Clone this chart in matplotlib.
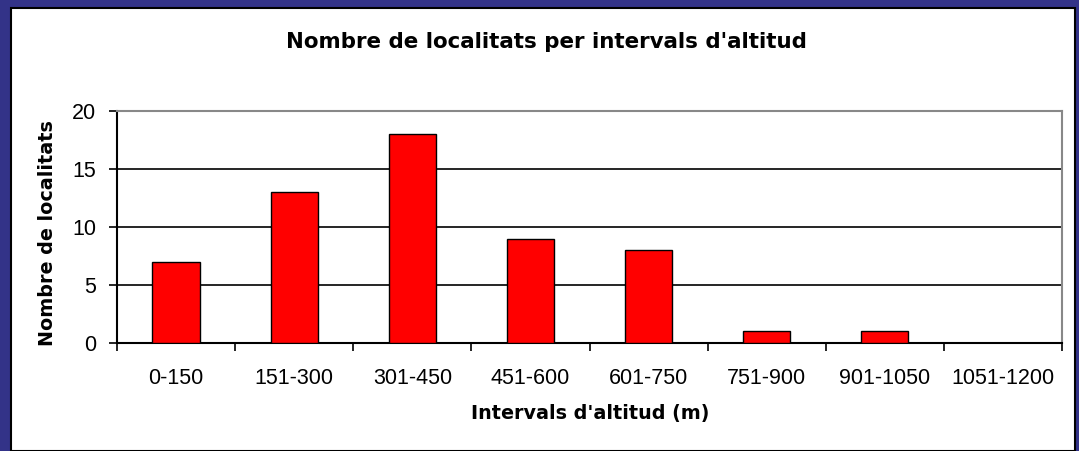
import numpy as np
import matplotlib.pyplot as plt
from matplotlib.patches import Rectangle

# data
intervals = ['0-150', '151-300', '301-450', '451-600', '601-750',
             '751-900', '901-1050', '1051-1200']
localitats = [7, 13, 18, 9, 8, 1, 1, 0]

W, H = 1079, 451
fig = plt.figure(figsize=(W / 100, H / 100), dpi=100, facecolor='#333388')
plt.rcParams['font.family'] = ['Liberation Sans', 'DejaVu Sans']

# white panel with black edge inside the navy frame
fig.patches.append(Rectangle((11 / W, 0), (1075 - 11) / W, (H - 8) / H,
                             transform=fig.transFigure, facecolor='white',
                             edgecolor='black', linewidth=1.5, zorder=-5))

ax = fig.add_axes([117 / W, 1 - 343 / H, (1062 - 117) / W, (343 - 111) / H])
ax.set_facecolor('white')

x = np.arange(len(intervals))
ax.bar(x, localitats, width=0.4, color='#ff0000', edgecolor='black',
       linewidth=1, zorder=3)

ax.set_xlim(-0.5, len(intervals) - 0.5)
ax.set_ylim(0, 20)
ax.set_yticks([0, 5, 10, 15, 20])
ax.yaxis.grid(True, color='black', linewidth=1.2, zorder=0)
ax.set_axisbelow(True)

# category labels between boundary ticks
ax.set_xticks(np.arange(len(intervals) + 1) - 0.5)
ax.set_xticklabels([])
ax.set_xticks(x, minor=True)
ax.set_xticklabels(intervals, minor=True)
ax.tick_params(axis='x', which='minor', length=0, pad=18, labelsize=15.5)
ax.tick_params(axis='x', which='major', length=6, width=1.2, direction='out')
ax.tick_params(axis='y', length=6, width=1.2, labelsize=15.5, pad=9)

for s in ['left', 'bottom']:
    ax.spines[s].set_color('black')
    ax.spines[s].set_linewidth(1.5)
for s in ['top', 'right']:
    ax.spines[s].set_color('#888888')
    ax.spines[s].set_linewidth(1.5)

bold = dict(fontweight='bold', family='DejaVu Sans')
fig.text(546 / W, 1 - 42 / H, "Nombre de localitats per intervals d'altitud",
         ha='center', va='center', fontsize=15.4, **bold)
fig.text(590 / W, 1 - 413 / H, "Intervals d'altitud (m)",
         ha='center', va='center', fontsize=13.8, **bold)
fig.text(48 / W, 1 - 233 / H, 'Nombre de localitats', rotation=90,
         ha='center', va='center', fontsize=13.8, **bold)

fig.savefig('out.png', dpi=100, facecolor=fig.get_facecolor())
